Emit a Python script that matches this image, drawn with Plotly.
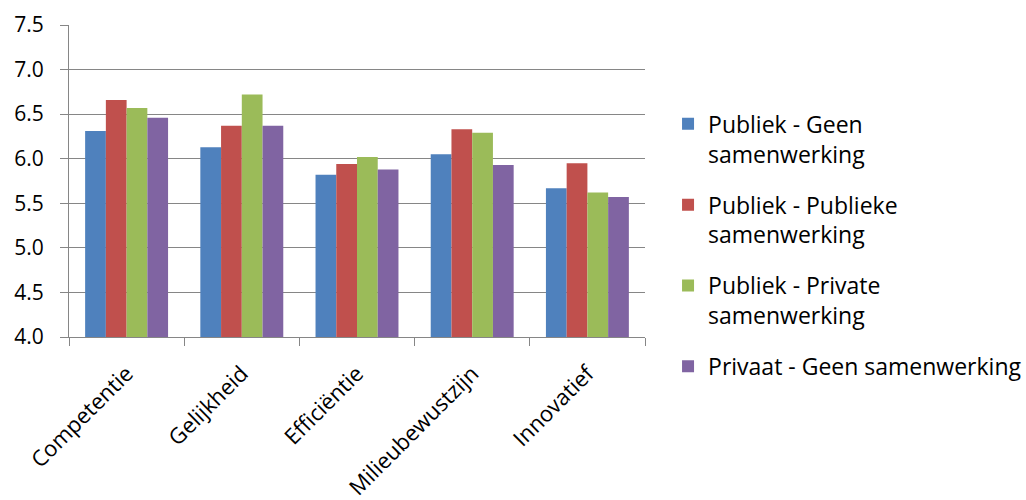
import plotly.graph_objects as go

categories = ["Competentie", "Gelijkheid", "Efficiëntie", "Milieubewustzijn", "Innovatief"]

series_names = [
    "Publiek - Geen<br>samenwerking",
    "Publiek - Publieke<br>samenwerking",
    "Publiek - Private<br>samenwerking",
    "Privaat - Geen samenwerking",
]

publiek_geen = [6.31, 6.13, 5.82, 6.05, 5.67]
publiek_publiek = [6.66, 6.37, 5.94, 6.33, 5.95]
publiek_privaat = [6.57, 6.72, 6.02, 6.29, 5.62]
privaat_geen = [6.46, 6.37, 5.88, 5.93, 5.57]

series_values = [publiek_geen, publiek_publiek, publiek_privaat, privaat_geen]
colors = ["#4F81BD", "#C0504D", "#9BBB59", "#8064A2"]

y_ticks = [4.0, 4.5, 5.0, 5.5, 6.0, 6.5, 7.0, 7.5]

FONT = "Open Sans"
GRID = "#868686"

fig = go.Figure()
for name, vals, col in zip(series_names, series_values, colors):
    fig.add_trace(go.Bar(
        x=categories, y=vals, name=name,
        marker=dict(color=col, line=dict(width=0)),
        legendgroup=name,
    ))

fig.update_layout(
    width=1026, height=500,
    margin=dict(l=69, r=381, t=25, b=163, pad=0, autoexpand=False),
    paper_bgcolor="white", plot_bgcolor="white",
    barmode="group", bargap=0.28, bargroupgap=0,
    font=dict(family=FONT, size=21, color="#000000"),
    legend=dict(
        x=1.04, y=0.752, xanchor="left", yanchor="top",
        font=dict(family=FONT, size=23),
        tracegroupgap=18, valign="top",
        bgcolor="rgba(0,0,0,0)",
    ),
    showlegend=True,
)

fig.update_xaxes(
    type="category", tickangle=-45,
    showline=True, linecolor=GRID, linewidth=1,
    ticks="outside", tickson="boundaries", ticklen=8, tickcolor=GRID,
    showgrid=False,
    ticklabelstandoff=14,
    tickfont=dict(family=FONT, size=22),
)
fig.update_yaxes(
    range=[4.0, 7.5], tickvals=y_ticks,
    ticktext=[f"{v:.1f}" for v in y_ticks],
    showline=True, linecolor=GRID, linewidth=1,
    ticks="outside", ticklen=8, tickcolor=GRID,
    showgrid=True, gridcolor=GRID, gridwidth=1,
    zeroline=False,
    ticklabelstandoff=12,
    tickfont=dict(family=FONT, size=21),
)

fig.write_html("out.html")
